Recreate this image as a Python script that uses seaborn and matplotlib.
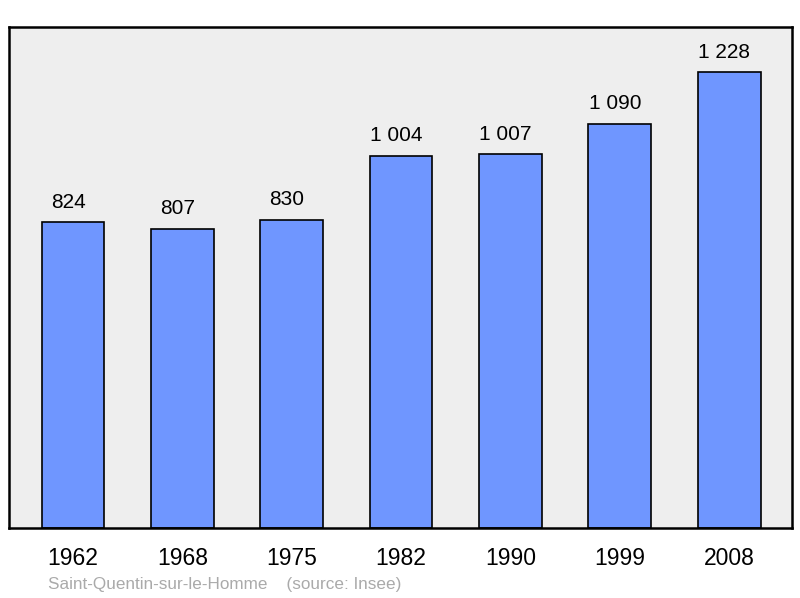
import pandas as pd
import matplotlib
matplotlib.use("Agg")
import matplotlib.pyplot as plt
import seaborn as sns

# population by census year
years = ["1962", "1968", "1975", "1982", "1990", "1999", "2008"]
population = [824, 807, 830, 1004, 1007, 1090, 1228]
bar_labels = ["824", "807", "830", "1 004", "1 007", "1 090", "1 228"]
footer = "Saint-Quentin-sur-le-Homme    (source: Insee)"

df = pd.DataFrame({"year": years, "population": population})

sns.set_style("white")
plt.rcParams["font.family"] = ["Liberation Sans", "DejaVu Sans"]

fig = plt.figure(figsize=(8, 5.98), dpi=100)
ax = fig.add_axes([0.01125, 0.117, 0.97875, 0.838])
ax.set_facecolor("#eeeeee")

sns.barplot(data=df, x="year", y="population", color="#6f96ff", saturation=1,
            width=0.575, edgecolor="black", linewidth=1.2, ax=ax)

for i, (v, lab) in enumerate(zip(population, bar_labels)):
    ax.annotate(lab, (i, v), xytext=(-3.5, 14.5), textcoords="offset points",
                ha="center", va="center", fontsize=15, color="black")

ax.set_ylim(0, max(population) * 1.1)
ax.set_xlim(-0.585, 6.575)
ax.set_yticks([])
ax.set_xlabel("")
ax.set_ylabel("")
ax.tick_params(axis="x", length=0, labelsize=16.5, pad=14, labelcolor="black")
for s in ax.spines.values():
    s.set_visible(True)
    s.set_linewidth(1.8)
    s.set_color("black")

fig.text(0.06, 0.023, footer, fontsize=12.3, color="#aaaaaa", ha="left", va="center")

fig.savefig("out.png", dpi=100)
